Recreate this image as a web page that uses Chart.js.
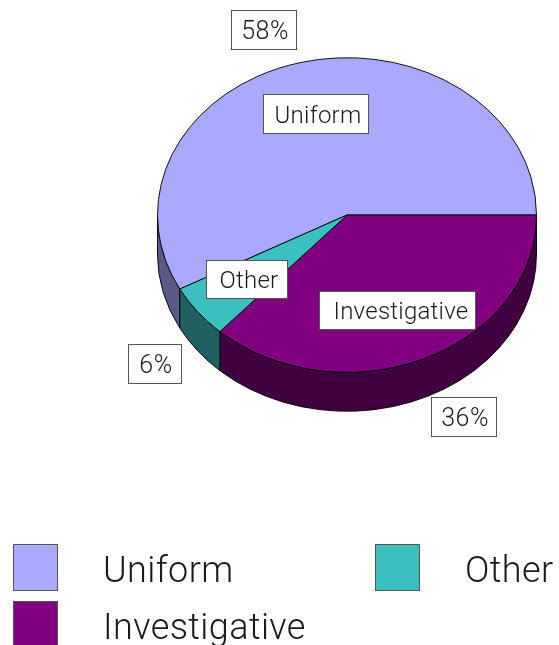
<!DOCTYPE html>
<html><head><meta charset="utf-8">
<style>html,body{margin:0;padding:0;background:#fff;overflow:hidden}#wrap{width:559px;height:645px;position:relative}</style>
<script src="https://cdn.jsdelivr.net/npm/chart.js@4/dist/chart.umd.min.js"></script>
</head><body><div id="wrap"><canvas id="c" width="559" height="645"></canvas></div>
<script>
const categories = ['Uniform', 'Investigative', 'Other'];
const shares = [57.8, 36.7, 5.5];
const percentLabels = ['58%', '36%', '6%'];
const topColors = ['#A9A9FF', '#800080', '#3CBFBF'];
const wallColors = ['#5A5A88', '#400040', '#206060'];

const squash = 0.83, depth = 39;
const FAMILY = 'Roboto, "Liberation Sans", sans-serif', INK = '#1a1a1a';
// Label box layout: [left, top, width, height, text shift]
const nameBoxes = [[263, 94, 106, 40, 2], [319, 291, 157, 39, 3.5], [206, 260, 82, 39, 2]];
const percentBoxes = [[231, 10, 66, 40, 1], [431, 397, 66, 40, 1], [128, 344, 54, 40, 1]];
const legendSlots = [[13, 544], [13, 601], [375, 544]];

function wallPath(ctx, a, from, to, d) {
  ctx.beginPath();
  ctx.arc(a.x, a.y, a.outerRadius, from, to, false);
  ctx.arc(a.x, a.y + d, a.outerRadius, to, from, true);
  ctx.closePath();
}
const pie3d = {
  id: 'pie3d',
  beforeDatasetsDraw(chart) {
    const ctx = chart.ctx, arcs = chart.getDatasetMeta(0).data, a0 = arcs[0];
    ctx.save();
    ctx.translate(a0.x, a0.y); ctx.scale(1, squash); ctx.translate(-a0.x, -a0.y);
    const d = depth / squash, T = Math.PI * 2;
    arcs.forEach((a, i) => {
      for (const k of [0, 1]) {
        const s = Math.max(a.startAngle + T * k, 0), e = Math.min(a.endAngle + T * k, Math.PI);
        if (e > s) {
          wallPath(ctx, a, s, e, d);
          ctx.fillStyle = wallColors[i]; ctx.fill();
          ctx.lineWidth = 1; ctx.strokeStyle = '#000'; ctx.stroke();
        }
      }
    });
  },
  afterDatasetsDraw(chart) { chart.ctx.restore(); },
  afterDraw(chart) {
    const ctx = chart.ctx;
    const box = (b, t, font, spacing) => {
      const [x, y, w, h, shift] = b;
      ctx.fillStyle = '#fff'; ctx.fillRect(x, y, w, h);
      ctx.strokeStyle = '#555'; ctx.lineWidth = 1; ctx.strokeRect(x + .5, y + .5, w - 1, h - 1);
      ctx.fillStyle = INK; ctx.font = font; ctx.letterSpacing = spacing;
      ctx.textAlign = 'center'; ctx.textBaseline = 'alphabetic';
      ctx.fillText(t, x + w / 2 + shift, y + h / 2 + 8.5);
    };
    nameBoxes.forEach((b, i) => box(b, categories[i], '300 24px ' + FAMILY, '0.25px'));
    percentBoxes.forEach((b, i) => box(b, percentLabels[i], '300 25px ' + FAMILY, '0.5px'));
    categories.forEach((c, i) => {
      const [x, y] = legendSlots[i];
      ctx.fillStyle = topColors[i]; ctx.fillRect(x, y, 44, 46);
      ctx.strokeStyle = '#555'; ctx.lineWidth = 1; ctx.strokeRect(x + .5, y + .5, 44, 46);
      ctx.fillStyle = INK; ctx.font = '300 36px ' + FAMILY; ctx.letterSpacing = '0.4px';
      ctx.textAlign = 'left'; ctx.textBaseline = 'alphabetic';
      ctx.fillText(c, x + 90, y + 38);
    });
  }
};
new Chart(document.getElementById('c'), {
  type: 'pie',
  data: { labels: categories, datasets: [{ data: shares, backgroundColor: topColors, borderColor: '#000', borderWidth: 1 }] },
  options: {
    responsive: false, animation: false,
    rotation: 90 - 360 * shares[0] / shares.reduce((p, v) => p + v, 0),
    layout: { padding: { left: 157, right: 22, top: 0, bottom: 215 } },
    plugins: { legend: { display: false }, tooltip: { enabled: false } }
  },
  plugins: [pie3d]
});
</script></body></html>
